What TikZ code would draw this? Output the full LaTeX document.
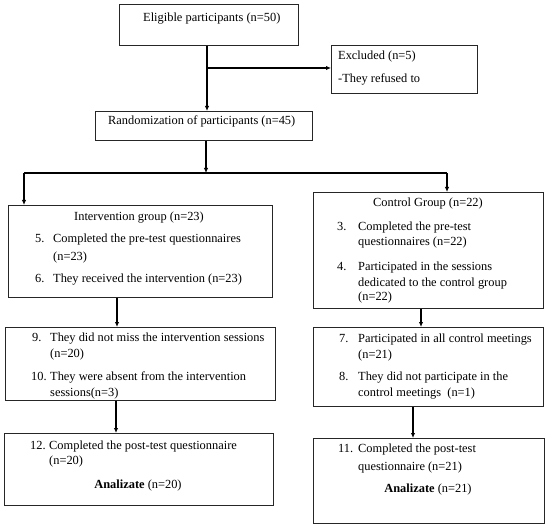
\documentclass[tikz,border=0pt]{standalone}
\usepackage{fontspec}
\setmainfont{Liberation Serif}
\usetikzlibrary{arrows.meta}
\tikzset{
  box/.style={draw=black!85, line width=0.9pt, inner sep=0pt, anchor=north west},
  txt/.style={inner sep=0pt, anchor=base west, font=\fontsize{12.4}{15}\selectfont},
  ctxt/.style={inner sep=0pt, anchor=base, font=\fontsize{12.4}{15}\selectfont},
  arr/.style={line width=1.4pt, -{Latex[length=5pt,width=4.5pt]}},
  ln/.style={line width=1.4pt}
}
\begin{document}
\begin{tikzpicture}[x=1pt,y=-1pt]
\useasboundingbox (0,0) rectangle (550,527);
% boxes
\node[box, minimum width=179pt, minimum height=41pt] (e) at (119,4) {};
\node[box, minimum width=146pt, minimum height=48pt] (x) at (331,45) {};
\node[box, minimum width=217pt, minimum height=29pt] (r) at (95,111) {};
\node[box, minimum width=264pt, minimum height=92pt] (ig) at (8,205) {};
\node[box, minimum width=230pt, minimum height=116pt] (cg) at (313,192) {};
\node[box, minimum width=270pt, minimum height=73pt] (i2) at (5,327) {};
\node[box, minimum width=230pt, minimum height=79pt] (c2) at (313,327) {};
\node[box, minimum width=269pt, minimum height=72pt] (i3) at (4,433) {};
\node[box, minimum width=231pt, minimum height=85pt] (c3) at (313,438) {};
% connectors
\coordinate (j1) at (207,68);
\coordinate (j2) at (206,173);
\coordinate (jl) at (24,173);
\coordinate (jr) at (447,173);
\draw[ln] (e.south -| j1) -- (j1);
\draw[arr] (j1) -- (r.north -| j1);
\draw[arr] (j1) -- (x.west |- j1);
\draw[arr] (r.south -| j2) -- (j2);
\draw[ln] (jl) -- (jr);
\draw[arr] (jl) -- (ig.north -| jl);
\draw[arr] (jr) -- (cg.north -| jr);
\coordinate (k1) at (117,0);
\coordinate (k2) at (116,0);
\coordinate (k3) at (421,0);
\coordinate (k4) at (413,0);
\draw[arr] (ig.south -| k1) -- (i2.north -| k1);
\draw[arr] (i2.south -| k2) -- (i3.north -| k2);
\draw[arr] (cg.south -| k3) -- (c2.north -| k3);
\draw[arr] (c2.south -| k4) -- (c3.north -| k4);
% texts
\node[txt] (te) at (143,22) {Eligible participants (n=50)};
\node[txt] (tx1) at (338,60) {Excluded (n=5)};
\node[txt] (tx2) at (338,83) {-They refused to};
\node[txt] (tr) at (108,125) {Randomization of participants (n=45)};
% intervention
\node[txt] (ti0) at (74,220) {Intervention group (n=23)};
\node[txt] (ti5n) at (35,243) {5.};
\node[txt] (ti5a) at (53,243) {Completed the pre-test questionnaires};
\node[txt] (ti5b) at (53,261) {(n=23)};
\node[txt] (ti6n) at (35,282) {6.};
\node[txt] (ti6a) at (53,282) {They received the intervention (n=23)};
\node[txt] (ti9n) at (32,341) {9.};
\node[txt] (ti9a) at (50,341) {They did not miss the intervention sessions};
\node[txt] (ti9b) at (50,357) {(n=20)};
\node[txt] (ti10n) at (31,380) {10.};
\node[txt] (ti10a) at (50,380) {They were absent from the intervention};
\node[txt] (ti10b) at (50,396) {sessions(n=3)};
\node[txt] (ti12n) at (30,449) {12.};
\node[txt] (ti12a) at (49,449) {Completed the post-test questionnaire};
\node[txt] (ti12b) at (49,464) {(n=20)};
\node[ctxt] (ti13) at (138,488) {\textbf{Analizate} (n=20)};
% control
\node[ctxt] (tc0) at (428,207) {Control Group (n=22)};
\node[txt] (tc3n) at (337,230) {3.};
\node[txt] (tc3a) at (358,230) {Completed the pre-test};
\node[txt] (tc3b) at (358,246) {questionnaires (n=22)};
\node[txt] (tc4n) at (337,270) {4.};
\node[txt] (tc4a) at (358,270) {Participated in the sessions};
\node[txt] (tc4b) at (358,286) {dedicated to the control group};
\node[txt] (tc4c) at (358,301) {(n=22)};
\node[txt] (tc7n) at (339,342) {7.};
\node[txt] (tc7a) at (358,342) {Participated in all control meetings};
\node[txt] (tc7b) at (358,358) {(n=21)};
\node[txt] (tc8n) at (339,380) {8.};
\node[txt] (tc8a) at (358,380) {They did not participate in the};
\node[txt] (tc8b) at (358,396) {control meetings\ \ (n=1)};
\node[txt] (tc11n) at (338,452) {11.};
\node[txt] (tc11a) at (358,452) {Completed the post-test};
\node[txt] (tc11b) at (358,470) {questionnaire (n=21)};
\node[ctxt] (tc13) at (428,492) {\textbf{Analizate} (n=21)};
\end{tikzpicture}
\end{document}
